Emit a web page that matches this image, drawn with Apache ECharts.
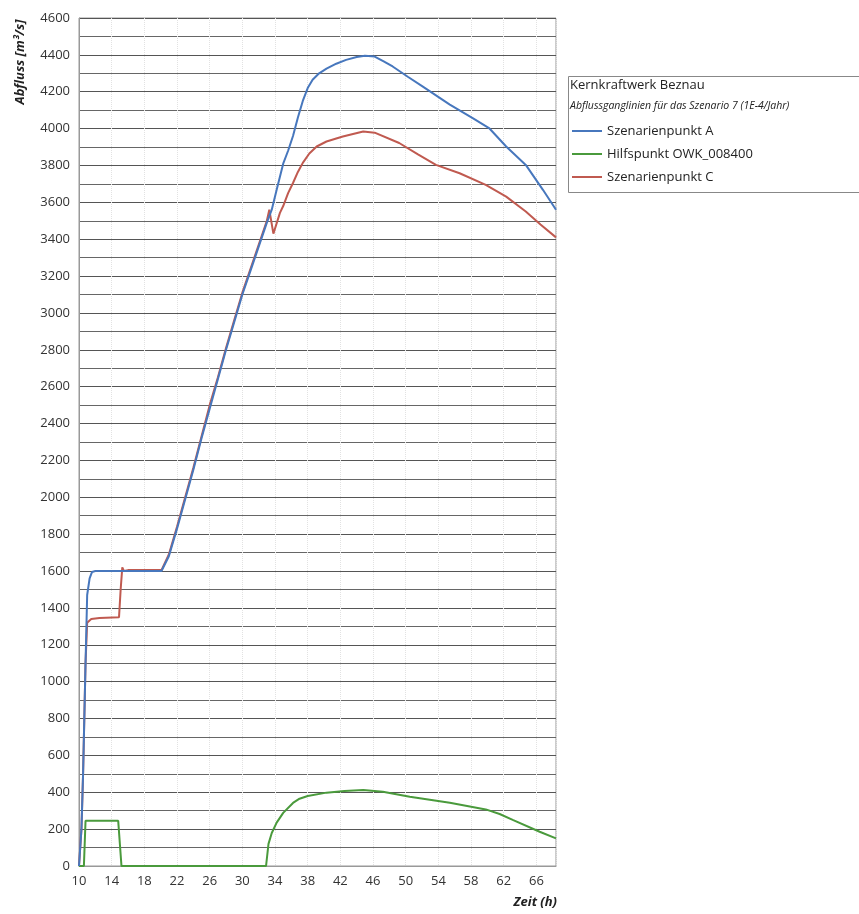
<!DOCTYPE html>
<html>
<head>
<meta charset="utf-8">
<script src="https://cdn.jsdelivr.net/npm/echarts@6/dist/echarts.min.js"></script>
<style>
html,body{margin:0;padding:0;background:#fff;}
#chart{width:859px;height:914px;}
</style>
</head>
<body>
<div id="chart"></div>
<script>
// ---- Data ----
const seriesNames = ['Szenarienpunkt A', 'Hilfspunkt OWK_008400', 'Szenarienpunkt C'];

const timeA = [10, 10.3, 10.5, 10.8, 11.0, 11.3, 11.6, 12, 20.1, 21, 22, 23, 24, 25, 26, 27, 28, 29, 30, 31, 32, 33, 33.6, 34.2, 35, 35.6, 36.2, 36.8, 37.4, 38, 38.6, 39.4, 40.3, 41.5, 42.7, 44, 45, 46.2, 47.3, 48.4, 50.3, 52.1, 55.4, 58.2, 60.2, 62.3, 64.7, 66.8, 68.4];
const flowA = [0, 200, 500, 1100, 1470, 1560, 1595, 1600, 1600, 1680, 1830, 1990, 2150, 2320, 2480, 2640, 2800, 2950, 3100, 3230, 3360, 3490, 3560, 3668, 3810, 3880, 3960, 4060, 4150, 4220, 4265, 4300, 4325, 4352, 4373, 4388, 4395, 4391, 4365, 4337, 4280, 4228, 4130, 4057, 4003, 3903, 3803, 3668, 3560];

const timeB = [10, 10.6, 10.8, 14.8, 15.2, 32.9, 33.2, 33.6, 34.2, 35, 36.2, 37, 38, 40.3, 42.5, 44.8, 47.2, 50.5, 55.4, 59.8, 61.5, 63.1, 66.4, 68.4];
const flowB = [0, 0, 245, 245, 0, 0, 120, 179, 235, 288, 342, 365, 380, 398, 407, 412, 403, 376, 343, 307, 282, 250, 186, 150];

const timeC = [10, 10.3, 10.5, 10.8, 11.0, 11.5, 12.5, 14.9, 15.1, 15.3, 15.5, 16, 20.1, 21, 22, 23, 24, 25, 26, 27, 28, 29, 30, 31, 32, 33, 33.3, 33.8, 34.6, 35, 35.6, 36.2, 36.8, 37.4, 38.2, 39.1, 40.3, 42.3, 44.8, 46.2, 49.2, 51.5, 53.7, 56.6, 59.8, 62.3, 64.7, 66.5, 68.4];
const flowC = [0, 200, 500, 1100, 1320, 1340, 1345, 1350, 1500, 1620, 1600, 1605, 1605, 1690, 1840, 2000, 2160, 2330, 2500, 2650, 2810, 2960, 3110, 3240, 3370, 3500, 3560, 3430, 3543, 3580, 3650, 3705, 3765, 3814, 3865, 3903, 3930, 3957, 3984, 3978, 3922, 3860, 3803, 3758, 3695, 3631, 3550, 3480, 3410];

const xTicks = {min: 10, max: 68.4, interval: 4};
const yTicks = {min: 0, max: 4600, interval: 200};

const zip = (t, f) => t.map((v, i) => [v, f[i]]);

const colors = ['#4777bd', '#4a9a3c', '#c05a50'];
const font = 'Open Sans';

const chart = echarts.init(document.getElementById('chart'));
chart.setOption({
  animation: false,
  backgroundColor: '#fff',
  grid: {left: 79, right: 303, top: 18, bottom: 48, show: true, borderColor: '#999', borderWidth: 1},
  xAxis: {
    type: 'value', min: xTicks.min, max: xTicks.max, interval: xTicks.interval,
    axisLine: {show: true, lineStyle: {color: '#999'}},
    axisTick: {show: false},
    axisLabel: {color: '#333', fontFamily: font, fontSize: 13, margin: 9, showMaxLabel: false},
    splitLine: {show: true, lineStyle: {color: '#e2e2e2', type: 'dotted'}}
  },
  yAxis: {
    type: 'value', min: yTicks.min, max: yTicks.max, interval: yTicks.interval,
    axisLine: {show: true, lineStyle: {color: '#999'}},
    axisTick: {show: false},
    axisLabel: {color: '#333', fontFamily: font, fontSize: 13, margin: 9, formatter: v => String(v)},
    splitLine: {show: true, lineStyle: {color: '#555', width: 1}},
    minorTick: {show: false, splitNumber: 2},
    minorSplitLine: {show: true, lineStyle: {color: '#666', width: 1}}
  },
  legend: {
    orient: 'vertical', left: 567, top: 117, itemGap: 5,
    itemWidth: 30, itemHeight: 2, icon: 'rect',
    textStyle: {fontFamily: font, fontSize: 13, color: '#222', lineHeight: 18},
    data: seriesNames
  },
  series: [
    {name: seriesNames[0], type: 'line', data: zip(timeA, flowA), showSymbol: false, symbol: 'none', lineStyle: {width: 2, color: colors[0]}, itemStyle: {color: colors[0]}, z: 4},
    {name: seriesNames[1], type: 'line', data: zip(timeB, flowB), showSymbol: false, symbol: 'none', lineStyle: {width: 2, color: colors[1]}, itemStyle: {color: colors[1]}, z: 3},
    {name: seriesNames[2], type: 'line', data: zip(timeC, flowC), showSymbol: false, symbol: 'none', lineStyle: {width: 2, color: colors[2]}, itemStyle: {color: colors[2]}, z: 3}
  ],
  graphic: [
    {type: 'rect', left: 566, top: 74, shape: {width: 292, height: 116}, style: {fill: 'none', stroke: '#888', lineWidth: 1}},
    {type: 'text', left: 570, top: 79, style: {text: 'Kernkraftwerk Beznau', font: '13px "Open Sans"', fill: '#222'}},
    {type: 'text', left: 570, top: 101, style: {text: 'Abflussganglinien für das Szenario 7 (1E-4/Jahr)', font: 'italic 10.5px "Open Sans"', fill: '#222'}},
    {type: 'text', x: 20, y: 62, rotation: Math.PI / 2, style: {text: 'Abfluss [m³/s]', font: 'italic bold 13px "Open Sans"', fill: '#222', align: 'center', verticalAlign: 'middle'}},
    {type: 'text', x: 557, y: 902, style: {text: 'Zeit (h)', font: 'italic bold 13px "Open Sans"', fill: '#222', align: 'right', verticalAlign: 'middle'}}
  ]
});
</script>
</body>
</html>
